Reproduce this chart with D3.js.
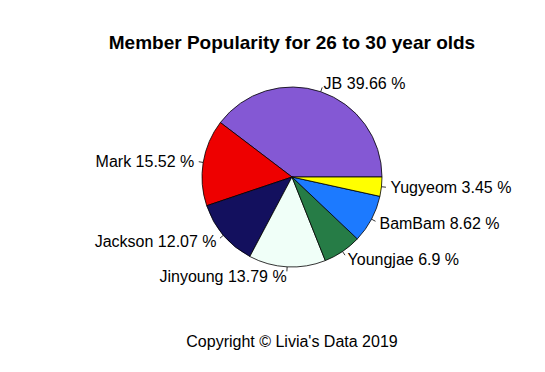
<!DOCTYPE html>
<html>
<head>
<meta charset="utf-8">
<script src="https://cdn.jsdelivr.net/npm/d3@7"></script>
<style>
  body { margin: 0; background: #fff; }
  text { font-family: "Liberation Sans", Arial, sans-serif; fill: #000; }
</style>
</head>
<body>
<svg width="545" height="372"></svg>
<script>
// Data, in R's drawing order (counter-clockwise from 3 o'clock)
var members = ["JB", "Mark", "Jackson", "Jinyoung", "Youngjae", "BamBam", "Yugyeom"]
  , counts = [23, 9, 7, 8, 4, 5, 2]
  , colors = ["#8458d4", "#ee0000", "#13105e", "#f0fff8", "#267c46", "#1c7aff", "#ffff00"]
;

var cx = 292, cy = 177
  , radius = 90
;

var svg = d3.select("svg");
var total = d3.sum(counts);
var data = members.map(function (m, i) {
    return { name: m, value: counts[i], color: colors[i],
             pct: Math.round(counts[i] / total * 10000) / 100 };
  });

// Counter-clockwise from 3 o'clock, like base R pie()
var pie = d3.pie()
    .sort(null)
    .value(function (d) { return d.value; })
    .startAngle(Math.PI / 2)
    .endAngle(Math.PI / 2 - 2 * Math.PI);

var arc = d3.arc().innerRadius(0).outerRadius(radius);

var g = svg.append("g").attr("transform", "translate(" + [cx, cy] + ")");
var arcs = pie(data);

g.selectAll("path.slice")
  .data(arcs)
  .enter().append("path")
    .attr("class", "slice")
    .attr("d", arc)
    .attr("fill", function (d) { return d.data.color; })
    .attr("stroke", "#000")
    .attr("stroke-width", 0.8);

function mid(d) { return (d.startAngle + d.endAngle) / 2; }

// Tick lines from r to 1.05r
g.selectAll("line.tick")
  .data(arcs)
  .enter().append("line")
    .attr("x1", function (d) { return Math.sin(mid(d)) * radius; })
    .attr("y1", function (d) { return -Math.cos(mid(d)) * radius; })
    .attr("x2", function (d) { return Math.sin(mid(d)) * radius * 1.05; })
    .attr("y2", function (d) { return -Math.cos(mid(d)) * radius * 1.05; })
    .attr("stroke", "#000")
    .attr("stroke-width", 0.8);

// Labels at 1.1r
g.selectAll("text.lab")
  .data(arcs)
  .enter().append("text")
    .attr("x", function (d) { return Math.sin(mid(d)) * radius * 1.1; })
    .attr("y", function (d) { return -Math.cos(mid(d)) * radius * 1.1; })
    .attr("dy", "0.36em")
    .attr("text-anchor", function (d) { return Math.sin(mid(d)) > 0 ? "start" : "end"; })
    .style("font-size", "16px")
    .text(function (d) { return d.data.name + " " + d.data.pct + " %"; });

svg.append("text")
    .attr("x", cx).attr("y", 49)
    .attr("text-anchor", "middle")
    .style("font-size", "19px")
    .style("font-weight", "bold")
    .text("Member Popularity for 26 to 30 year olds");

svg.append("text")
    .attr("x", cx).attr("y", 347)
    .attr("text-anchor", "middle")
    .style("font-size", "16px")
    .text("Copyright \u00a9 Livia's Data 2019");
</script>
</body>
</html>
